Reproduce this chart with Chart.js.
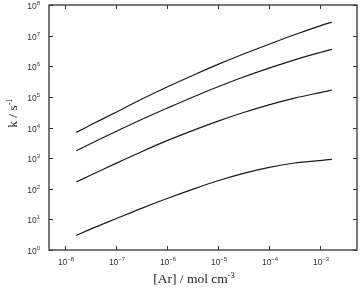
<!DOCTYPE html>
<html>
<head>
<meta charset="utf-8">
<script src="https://cdn.jsdelivr.net/npm/chart.js@4"></script>
<style>
  html, body { margin: 0; padding: 0; background: #fff; }
  #wrap { width: 362px; height: 292px; position: relative; }
</style>
</head>
<body>
<div id="wrap"><canvas id="c"></canvas></div>
<script>
// [Ar] concentration / mol cm^-3
const arConc = [1.66e-8, 3.16e-8, 1e-7, 3.16e-7, 1e-6, 3.16e-6, 1e-5, 3.16e-5, 1e-4, 3.16e-4, 1e-3, 1.70e-3];
// rate constants k / s^-1 for the four curves (top to bottom)
const kCurve1 = [6920, 12000, 31600, 83200, 209000, 501000, 1150000, 2510000, 5250000, 10700000, 20900000, 27500000];
const kCurve2 = [1740, 2950, 7410, 18200, 42700, 97700, 214000, 447000, 871000, 1620000, 2820000, 3550000];
const kCurve3 = [166, 275, 676, 1620, 3720, 7940, 16200, 30900, 55000, 91200, 138000, 166000];
const kCurve4 = [2.99, 4.79, 10.5, 22.9, 47.9, 95.5, 182, 316, 501, 692, 832, 912];
// tick labels (exponents of 10)
const xTickExponents = [-8, -7, -6, -5, -4, -3];
const yTickExponents = [0, 1, 2, 3, 4, 5, 6, 7, 8];
const xRange = [4.85e-9, 5.3e-3];
const yRange = [1, 1e8];

const allCurves = [kCurve1, kCurve2, kCurve3, kCurve4];
const datasets = allCurves.map(k => ({
  data: arConc.map((x, i) => ({ x: x, y: k[i] })),
  showLine: true,
  borderColor: '#1a1a1a',
  borderWidth: 1.2,
  pointRadius: 0,
  tension: 0.35,
  fill: false
}));

const TXT = '#333';
function drawPow(ctx, base, exp, x, y, align, baseFont, expFont, expRise) {
  ctx.font = baseFont;
  const wb = ctx.measureText(base).width;
  ctx.font = expFont;
  const we = ctx.measureText(exp).width;
  const w = wb + we;
  let sx = x;
  if (align === 'right') sx = x - w;
  else if (align === 'center') sx = x - w / 2;
  ctx.textAlign = 'left';
  ctx.textBaseline = 'alphabetic';
  ctx.font = baseFont;
  ctx.fillText(base, sx, y);
  ctx.font = expFont;
  ctx.fillText(exp, sx + wb, y - expRise);
}

const framePlugin = {
  id: 'frame',
  afterDraw(chart) {
    const ctx = chart.ctx;
    const a = chart.chartArea;
    const xs = chart.scales.x, ys = chart.scales.y;
    ctx.save();
    ctx.strokeStyle = '#333';
    ctx.lineWidth = 1.3;
    ctx.strokeRect(a.left, a.top, a.right - a.left, a.bottom - a.top);
    ctx.lineWidth = 1;
    ctx.beginPath();
    const tl = 4;
    xTickExponents.forEach(e => {
      const px = Math.round(xs.getPixelForValue(Math.pow(10, e))) + 0.5;
      ctx.moveTo(px, a.bottom); ctx.lineTo(px, a.bottom - tl);
      ctx.moveTo(px, a.top); ctx.lineTo(px, a.top + tl);
    });
    yTickExponents.forEach(e => {
      const py = Math.round(ys.getPixelForValue(Math.pow(10, e))) + 0.5;
      ctx.moveTo(a.left, py); ctx.lineTo(a.left + tl, py);
      ctx.moveTo(a.right, py); ctx.lineTo(a.right - tl, py);
    });
    ctx.stroke();

    ctx.fillStyle = TXT;
    const bf = "8.5px 'Liberation Sans', Arial, sans-serif";
    const ef = "6px 'Liberation Sans', Arial, sans-serif";
    xTickExponents.forEach(e => {
      const px = xs.getPixelForValue(Math.pow(10, e));
      drawPow(ctx, '10', '\u2212' + String(-e), px + 1, 265, 'center', bf, ef, 4);
    });
    yTickExponents.forEach(e => {
      const py = ys.getPixelForValue(Math.pow(10, e));
      drawPow(ctx, '10', String(e), 40, py + 4, 'right', bf, ef, 4);
    });

    // axis titles
    const tf = "13.5px 'Liberation Serif', 'Times New Roman', serif";
    const tef = "8.5px 'Liberation Serif', 'Times New Roman', serif";
    ctx.fillStyle = '#222';
    ctx.font = tf;
    const wb = ctx.measureText('[Ar] / mol cm').width;
    ctx.font = tef;
    const we = ctx.measureText('-3').width;
    drawPow(ctx, '[Ar] / mol cm', '-3', 194 - (wb + we) / 2, 283, 'left', tf, tef, 5);
    ctx.save();
    ctx.translate(17, 113);
    ctx.rotate(-Math.PI / 2);
    drawPow(ctx, 'k / s', '-1', 0, 0, 'center', tf, tef, 5);
    ctx.restore();
    ctx.restore();
  }
};

new Chart(document.getElementById('c'), {
  type: 'scatter',
  data: { datasets: datasets },
  options: {
    responsive: true,
    maintainAspectRatio: false,
    animation: false,
    events: [],
    layout: { padding: { left: 49, right: 5, top: 5, bottom: 42 } },
    plugins: { legend: { display: false }, tooltip: { enabled: false } },
    scales: {
      x: { type: 'logarithmic', min: xRange[0], max: xRange[1], display: false },
      y: { type: 'logarithmic', min: yRange[0], max: yRange[1], display: false }
    }
  },
  plugins: [framePlugin]
});
</script>
</body>
</html>
